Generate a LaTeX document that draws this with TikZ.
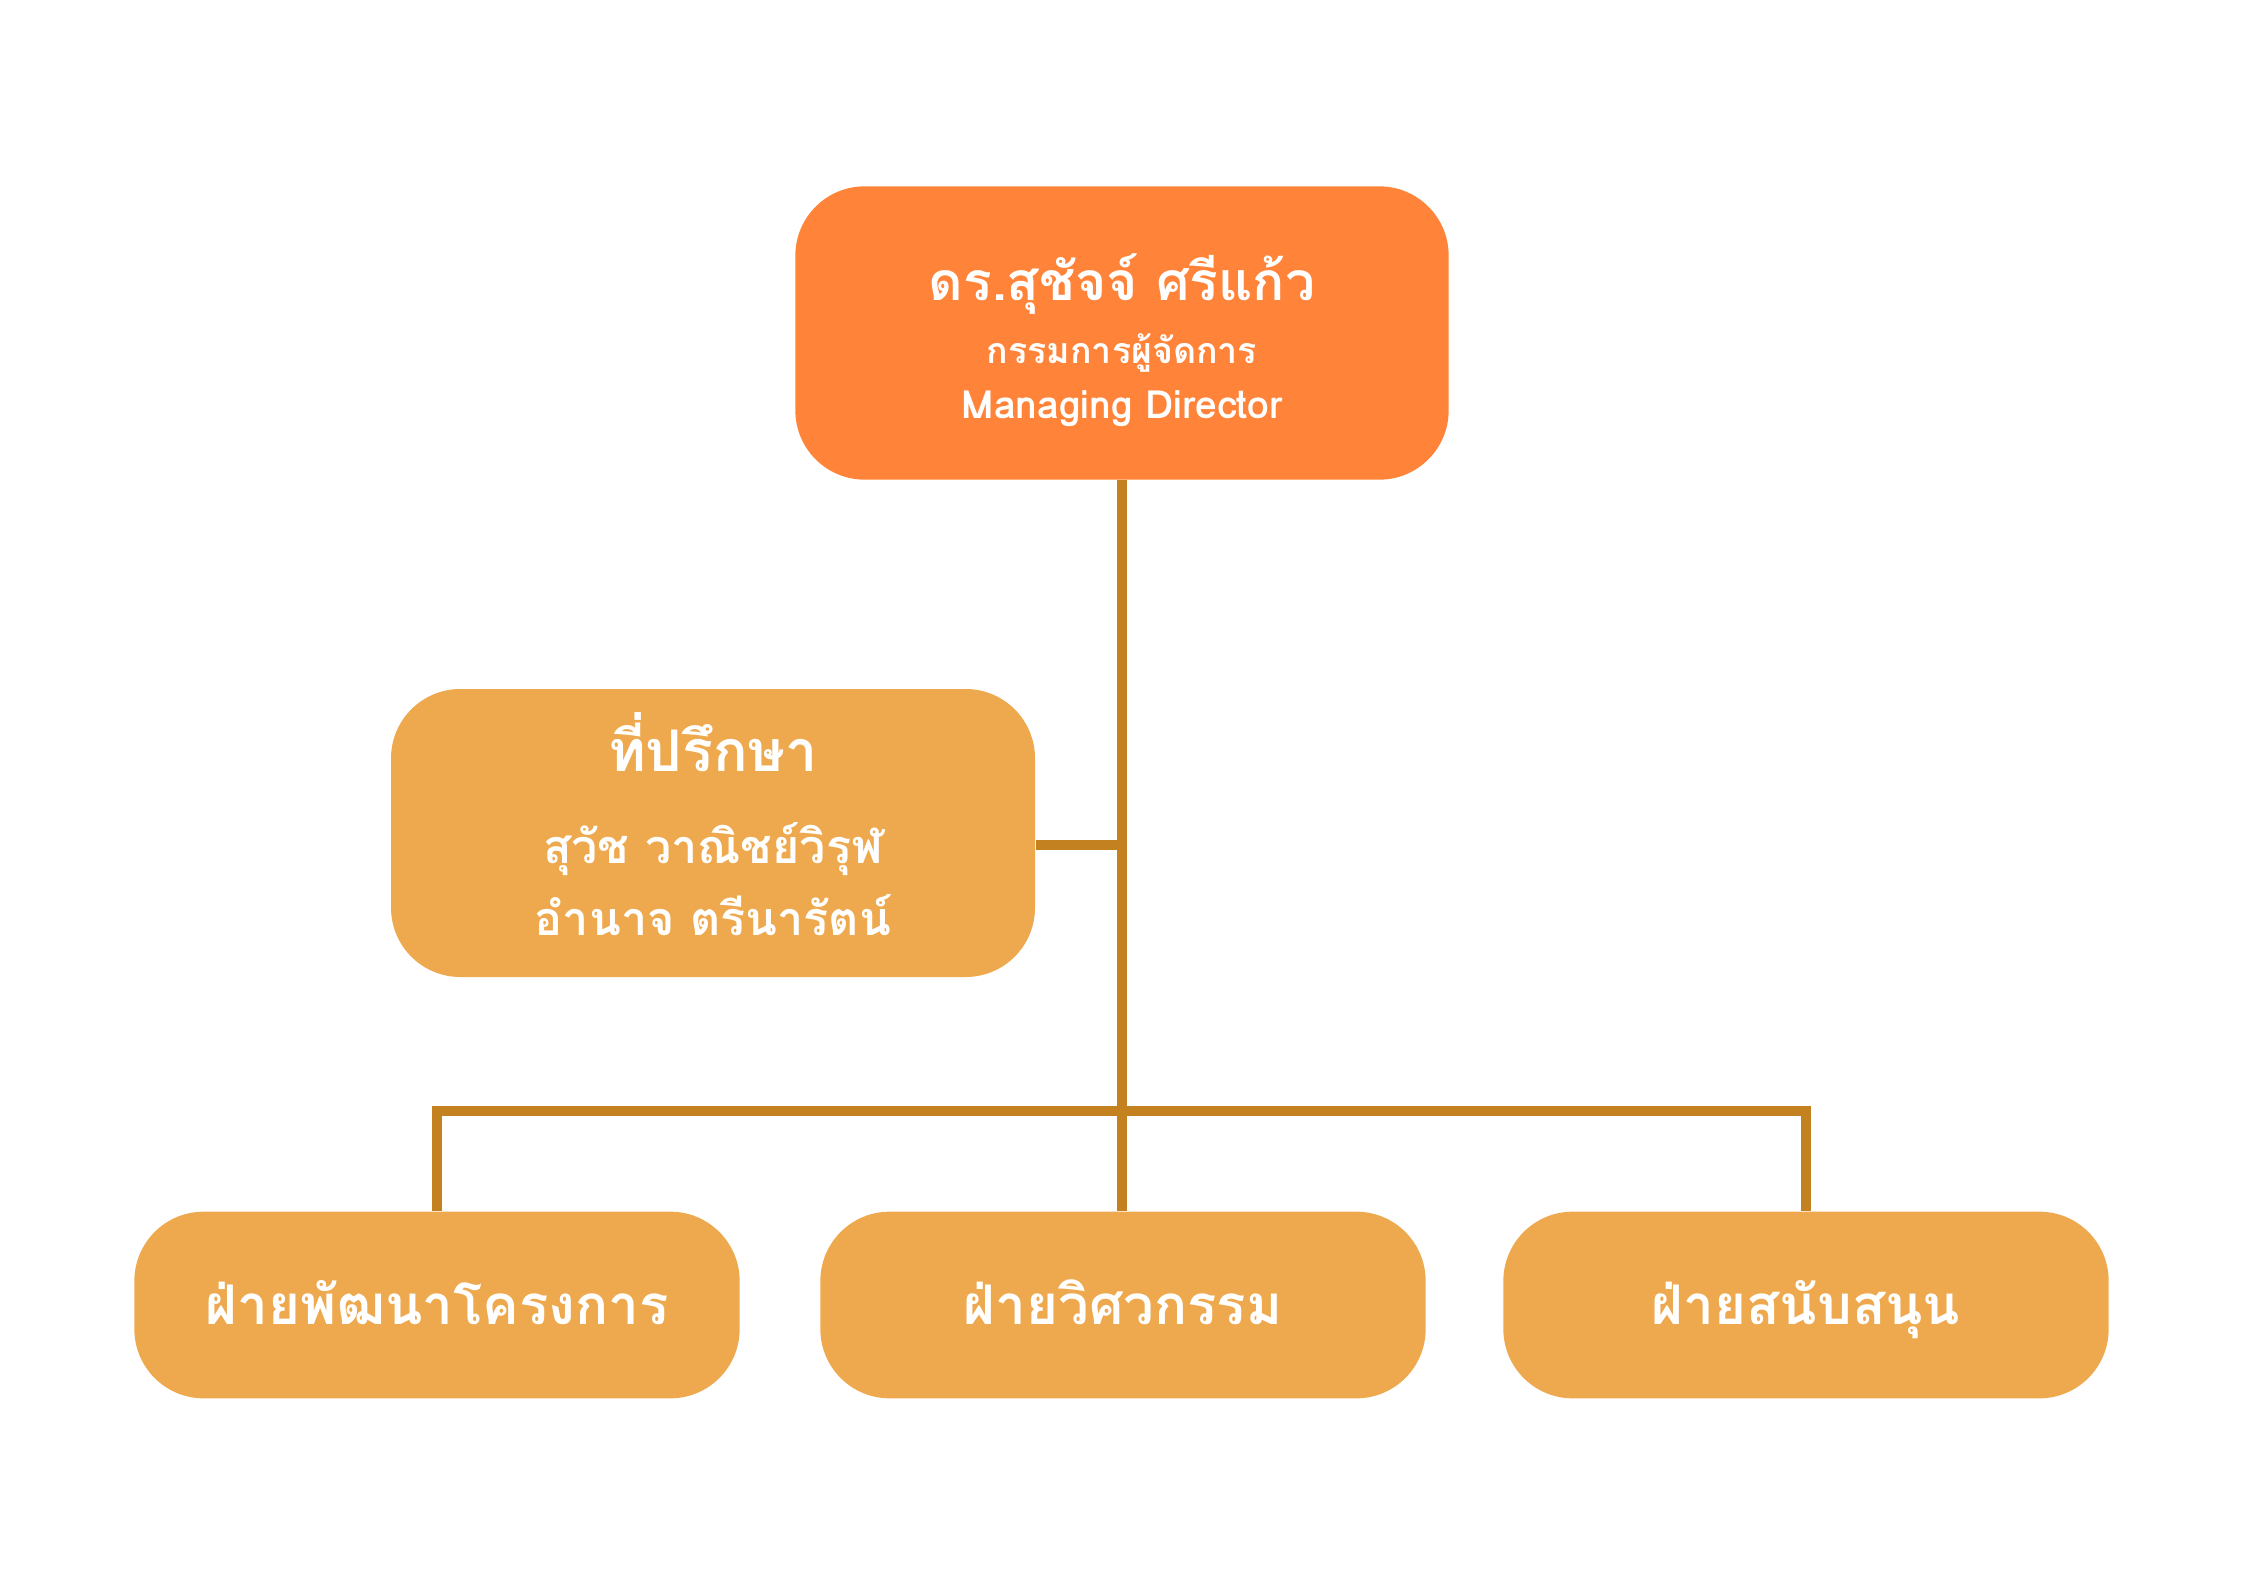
\documentclass[tikz,border=0pt]{standalone}
\usepackage{fontspec}
\usepackage{xcolor, tikz}
\newfontfamily\thaifont[Script=Thai]{Loma}
\definecolor{topfill}{HTML}{FF8439}
\definecolor{boxfill}{HTML}{EEA94E}
\definecolor{linkcol}{HTML}{C3821F}

\begin{document}
\begin{tikzpicture}[x=0.375pt, y=-0.375pt,
        box/.style={rounded corners=26pt, inner sep=0pt},
        boxtext/.style={inner sep=0pt, align=center, text=white, font=\thaifont\bfseries},
        dept/.style={box, boxtext, fill=boxfill, minimum width=227pt, minimum height=70pt, text height=17pt, text depth=2.6pt},
        link/.style={linkcol, line width=3.4pt}]
        \useasboundingbox (0, 0) rectangle (2245, 1587);

        % Managing director
        \node[box, fill=topfill, minimum width=245pt, minimum height=110pt] (md) at (1122, 333) {};
        \node[boxtext] (mdtext) at ([yshift=-2.7pt]md.center)
            {\fontsize{20}{23}\selectfont ดร.สุชัจจ์ ศรีแก้ว\\[6pt]
             \fontsize{13.4}{16}\selectfont กรรมการผู้จัดการ\\[6pt]
             \fontsize{14.6}{17}\selectfont Managing Director};

        % Advisors
        \node[box, fill=boxfill, minimum width=241.5pt, minimum height=108pt] (adv) at (713, 833) {};
        \node[boxtext] (advtext) at ([yshift=3.2pt]adv.center)
            {\fontsize{21.5}{25}\selectfont ที่ปรึกษา\\[18pt]
             \fontsize{17.5}{20}\selectfont สุวัช วาณิชย์วิรุฬ\\[6pt]
             \fontsize{17.5}{20}\selectfont อำนาจ ตรีนารัตน์};

        % Departments
        \node[dept] (dev) at (437, 1305) {\fontsize{20.5}{24}\selectfont ฝ่ายพัฒนาโครงการ};
        \node[dept] (eng) at (1123, 1305) {\fontsize{20.5}{24}\selectfont ฝ่ายวิศวกรรม};
        \node[dept] (sup) at (1806, 1305) {\fontsize{20.5}{24}\selectfont ฝ่ายสนับสนุน};

        \coordinate (bus) at (1122, 1111);
        \coordinate (tee) at (1122, 845);

        \draw[link] (md.south) -- (bus) -- (eng.north -| bus);
        \draw[link] (adv.east |- tee) -- (tee);
        \draw[link] (dev.north) -- (dev.north |- bus) -- (sup.north |- bus) -- (sup.north);

    \end{tikzpicture}
\end{document}
